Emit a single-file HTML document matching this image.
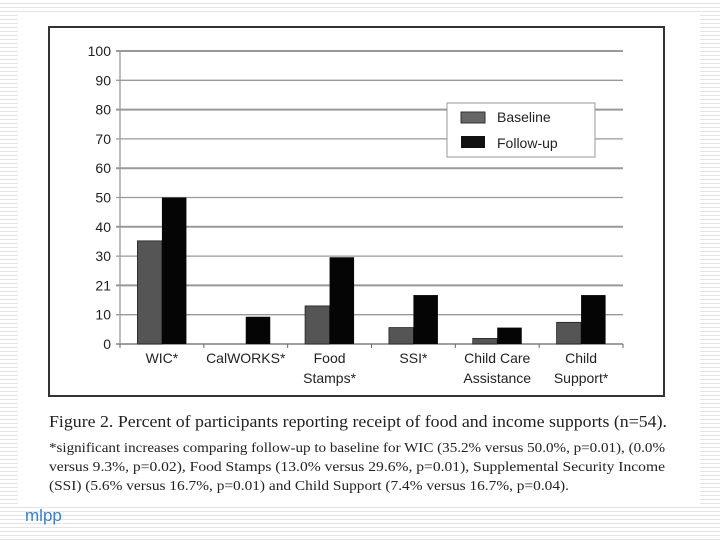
<!DOCTYPE html>
<html><head><meta charset="utf-8"><style>
body{margin:0;width:720px;height:540px;overflow:hidden;background:repeating-linear-gradient(to bottom,#fff 0,#fff 3px,#e4e4e4 3px,#e4e4e4 4px);font-family:"Liberation Sans",sans-serif}
#panel{position:absolute;left:18px;top:12px;width:682px;height:492px;background:#fff}
</style></head><body>
<div id="panel"></div>
<svg width="720" height="540" style="position:absolute;left:0;top:0">
<rect x="49" y="27" width="615" height="369" fill="#fff" stroke="#333" stroke-width="2"/>
<g id="grid"></g><g id="bars"></g><g id="labels"></g>
<g>
<rect x="447" y="103" width="148" height="54" fill="#fff" stroke="#999"/>
<rect x="461" y="112" width="24" height="11" fill="#666" stroke="#333"/>
<text x="497" y="122" font-size="14" fill="#222">Baseline</text>
<rect x="461" y="136" width="24" height="12" fill="#111"/>
<text x="497" y="148" font-size="14" fill="#222">Follow-up</text>
</g>
<g font-family="Liberation Serif, serif" fill="#222">
<text x="49" y="427" font-size="17" textLength="618" lengthAdjust="spacingAndGlyphs">Figure 2. Percent of participants reporting receipt of food and income supports (n=54).</text>
<text x="49" y="452" font-size="13.5" textLength="616" lengthAdjust="spacingAndGlyphs">*significant increases comparing follow-up to baseline for WIC (35.2% versus 50.0%, p=0.01), (0.0%</text>
<text x="49" y="471" font-size="13.5" textLength="616" lengthAdjust="spacingAndGlyphs">versus 9.3%, p=0.02), Food Stamps (13.0% versus 29.6%, p=0.01), Supplemental Security Income</text>
<text x="49" y="490" font-size="13.5" textLength="520" lengthAdjust="spacingAndGlyphs">(SSI) (5.6% versus 16.7%, p=0.01) and Child Support (7.4% versus 16.7%, p=0.04).</text>
</g>
</svg>
<div style="position:absolute;left:25px;top:506px;font-size:17px;color:#3a7fc4">mlpp</div>
<script>
const categories=[["WIC*"],["CalWORKS*"],["Food","Stamps*"],["SSI*"],["Child Care","Assistance"],["Child","Support*"]];
const baseline=[35.2,0,13.0,5.6,1.9,7.4];
const followup=[50.0,9.3,29.6,16.7,5.6,16.7];
const yTicks=[0,10,21,30,40,50,60,70,80,90,100];
const yTickValues=[0,10,20,30,40,50,60,70,80,90,100];
const NS="http://www.w3.org/2000/svg";
const x0=120,x1=623,y0=344,y100=51;
const cw=(x1-x0)/categories.length;
const y=v=>y0-(v/100)*(y0-y100);
const xc=i=>x0+cw*(i+0.5);
function mk(t,a,p){const e=document.createElementNS(NS,t);for(const k in a)e.setAttribute(k,a[k]);p.appendChild(e);return e;}
const grid=document.getElementById('grid'),bars=document.getElementById('bars'),labels=document.getElementById('labels');
yTickValues.forEach((v,i)=>{
 const l=mk('line',{x1:x0-4,x2:x1,y1:y(v),y2:y(v),stroke:v==0?'#666':'#999','stroke-width':v%20==0&&v>0?2:1.3},grid);
 
 
 const t=mk('text',{x:x0-9,y:y(v)+5,'text-anchor':'end','font-size':14,fill:'#222'},labels);
 t.textContent=yTicks[i];
 
 
});
const ax=mk('line',{x1:x0,x2:x0,y1:y(100),y2:y0,stroke:'#999','stroke-width':1.3},grid);


for(let i=0;i<=categories.length;i++){mk('line',{x1:x0+cw*i,x2:x0+cw*i,y1:y0,y2:y0+4,stroke:'#666'},grid);}
const bw=24.5;
categories.forEach((c,i)=>{
 const b=mk('rect',{x:xc(i)-bw,y:y(baseline[i]),width:bw,height:y0-y(baseline[i]),fill:'#555',stroke:'#222','stroke-width':0.8},bars);
 
 
 const f=mk('rect',{x:xc(i),y:y(followup[i]),width:bw,height:y0-y(followup[i]),fill:'#050505'},bars);
 
 
 c.forEach((s,j)=>{
  const t=mk('text',{x:xc(i),y:y0+19+j*20,'text-anchor':'middle','font-size':14,fill:'#222'},labels);
  t.textContent=s;
  
  
 });
});
</script>
</body></html>
